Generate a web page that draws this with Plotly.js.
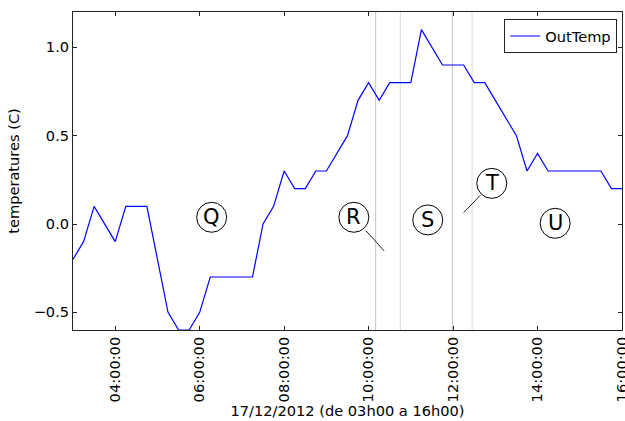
<!DOCTYPE html>
<html>
<head>
<meta charset="utf-8">
<script src="https://cdn.plot.ly/plotly-3.0.1.min.js"></script>
<style>html,body{margin:0;padding:0;background:#fff;}#chart{width:625px;height:421px;}</style>
</head>
<body>
<div id="chart"></div>
<script>
// ---- data ----
var times = [
  '2012-12-17 03:00','2012-12-17 03:15','2012-12-17 03:30','2012-12-17 03:45',
  '2012-12-17 04:00','2012-12-17 04:15','2012-12-17 04:30','2012-12-17 04:45',
  '2012-12-17 05:00','2012-12-17 05:15','2012-12-17 05:30','2012-12-17 05:45',
  '2012-12-17 06:00','2012-12-17 06:15','2012-12-17 06:30','2012-12-17 06:45',
  '2012-12-17 07:00','2012-12-17 07:15','2012-12-17 07:30','2012-12-17 07:45',
  '2012-12-17 08:00','2012-12-17 08:15','2012-12-17 08:30','2012-12-17 08:45',
  '2012-12-17 09:00','2012-12-17 09:15','2012-12-17 09:30','2012-12-17 09:45',
  '2012-12-17 10:00','2012-12-17 10:15','2012-12-17 10:30','2012-12-17 10:45',
  '2012-12-17 11:00','2012-12-17 11:15','2012-12-17 11:30','2012-12-17 11:45',
  '2012-12-17 12:00','2012-12-17 12:15','2012-12-17 12:30','2012-12-17 12:45',
  '2012-12-17 13:00','2012-12-17 13:15','2012-12-17 13:30','2012-12-17 13:45',
  '2012-12-17 14:00','2012-12-17 14:15','2012-12-17 14:30','2012-12-17 14:45',
  '2012-12-17 15:00','2012-12-17 15:15','2012-12-17 15:30','2012-12-17 15:45',
  '2012-12-17 16:00'
];
var outTemp = [
  -0.2,-0.1,0.1,0.0,
  -0.1,0.1,0.1,0.1,
  -0.2,-0.5,-0.6,-0.6,
  -0.5,-0.3,-0.3,-0.3,
  -0.3,-0.3,0.0,0.1,
  0.3,0.2,0.2,0.3,
  0.3,0.4,0.5,0.7,
  0.8,0.7,0.8,0.8,
  0.8,1.1,1.0,0.9,
  0.9,0.9,0.8,0.8,
  0.7,0.6,0.5,0.3,
  0.4,0.3,0.3,0.3,
  0.3,0.3,0.3,0.2,
  0.2
];
var xTickVals = ['2012-12-17 04:00','2012-12-17 06:00','2012-12-17 08:00','2012-12-17 10:00','2012-12-17 12:00','2012-12-17 14:00','2012-12-17 16:00'];
var yTickVals = [-0.5, 0.0, 0.5, 1.0];
var vLineTimes = ['2012-12-17 10:10','2012-12-17 10:45','2012-12-17 11:59','2012-12-17 12:27'];
var vLineColors = ['#c6c6c6','#dcdcdc','#c6c6c6','#dcdcdc'];
var markLabels = ['Q','R','S','T','U'];
var markTimes = ['2012-12-17 06:17','2012-12-17 09:39','2012-12-17 11:24','2012-12-17 12:55','2012-12-17 14:25'];
var markVals = [0.038, 0.038, 0.023, 0.23, 0.004];
var arrowTipTimes = [null, '2012-12-17 10:22', null, '2012-12-17 12:15', null];
var arrowTipVals = [null, -0.152, null, 0.064, null];

var FONT = 'DejaVu Sans, Liberation Sans, sans-serif';
var FS = 14.6;

var shapes = [];
vLineTimes.forEach(function(t, i){
  shapes.push({type:'line', xref:'x', yref:'paper', x0:t, x1:t, y0:0, y1:1,
    line:{color:vLineColors[i], width:1}, layer:'below'});
});
markTimes.forEach(function(t, i){
  shapes.push({type:'circle', xref:'x', yref:'y', xsizemode:'pixel', ysizemode:'pixel',
    xanchor:t, yanchor:markVals[i], x0:-15, x1:15, y0:-15, y1:15,
    line:{color:'#000', width:1}, fillcolor:'rgba(0,0,0,0)', layer:'above'});
});

var annotations = markLabels.map(function(lab, i){
  var a = {text:lab, font:{family:FONT, size:21, color:'#000'}, xref:'x', yref:'y'};
  if (arrowTipTimes[i]) {
    a.x = arrowTipTimes[i]; a.y = arrowTipVals[i];
    a.axref = 'x'; a.ayref = 'y'; a.ax = markTimes[i]; a.ay = markVals[i];
    a.showarrow = true; a.arrowhead = 0; a.arrowwidth = 1; a.arrowcolor = '#222';
    a.standoff = 0; a.borderpad = 4;
  } else {
    a.x = markTimes[i]; a.y = markVals[i]; a.showarrow = false;
  }
  return a;
});

var trace = {x: times, y: outTemp, type:'scatter', mode:'lines', name:'OutTemp',
  line:{color:'#0000ff', width:1.2}};

var layout = {
  width:625, height:421,
  margin:{l:73, r:3, t:12, b:91, pad:0},
  paper_bgcolor:'#fff', plot_bgcolor:'#fff',
  font:{family:FONT, size:FS, color:'#000'},
  showlegend:true,
  legend:{x:0.9914, y:0.978, xanchor:'right', yanchor:'top', bordercolor:'#222', borderwidth:1,
    bgcolor:'#fff', font:{family:FONT, size:FS, color:'#000'}},
  xaxis:{type:'date', range:['2012-12-17 03:00','2012-12-17 16:00'],
    tickvals:xTickVals, tickformat:'%H:%M:%S', tickangle:-90, ticklabeloverflow:'allow',
    ticks:'inside', ticklen:4, tickcolor:'#222', showline:true, linecolor:'#222', linewidth:1,
    mirror:'ticks', showgrid:false, zeroline:false,
    tickfont:{family:FONT, size:FS, color:'#000'},
    title:{text:'17/12/2012 (de 03h00 a 16h00)', font:{family:FONT, size:FS, color:'#000'}, standoff:2}},
  yaxis:{range:[-0.6, 1.2], tickvals:yTickVals, tickformat:'.1f',
    ticks:'inside', ticklen:4, tickcolor:'#222', showline:true, linecolor:'#222', linewidth:1,
    mirror:'ticks', showgrid:false, zeroline:false,
    tickfont:{family:FONT, size:FS, color:'#000'},
    title:{text:'temperatures (C)', font:{family:FONT, size:FS, color:'#000'}, standoff:10}},
  shapes:shapes,
  annotations:annotations
};

Plotly.newPlot('chart', [trace], layout, {staticPlot:true, displayModeBar:false});
</script>
</body>
</html>
